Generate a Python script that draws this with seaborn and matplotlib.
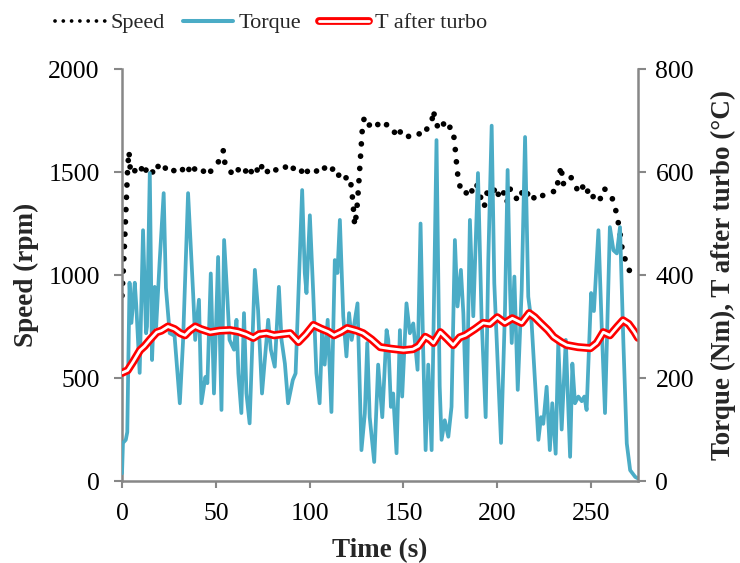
import matplotlib
matplotlib.use("Agg")
import matplotlib.pyplot as plt
from matplotlib.lines import Line2D
import matplotlib.patheffects as pe
import seaborn as sns

# Engine speed (rpm) over time (s)
speed_t = [0, 1, 2, 3, 3.7, 4.5, 6, 8, 10, 12, 13, 15, 17, 19, 21, 23, 25, 27, 29, 31,
           33, 35, 37, 39, 41, 43, 45, 47, 49, 51, 53, 54, 55, 57, 59, 61, 63, 65, 67, 69,
           71, 73, 75, 77, 79, 81, 83, 85, 87, 89, 91, 93, 95, 97, 99, 101, 103, 105, 107,
           109, 111, 113, 115, 117, 119, 121, 122, 123, 124, 125, 126, 127, 128, 129, 131,
           133, 135, 137, 139, 141, 143, 145, 147, 149, 151, 153, 155, 157, 159, 161, 163,
           165, 166, 167, 169, 171, 173, 175, 176.5, 177.5, 178.5, 179.5, 181, 183, 185,
           187, 189, 191, 193, 195, 197, 199, 201, 203, 205, 207, 209, 211, 213, 215, 217,
           219, 221, 223, 225, 227, 229, 231, 233, 234, 235, 237, 239, 241, 243, 245, 247,
           249, 251, 253, 255, 257, 259, 261, 263, 265, 266.5, 268, 270, 271]
speed_rpm = [900, 1080, 1300, 1520, 1600, 1500, 1490, 1530, 1510, 1540, 1500, 1520, 1490,
             1530, 1500, 1520, 1495, 1510, 1500, 1490, 1525, 1500, 1540, 1510, 1495, 1510,
             1480, 1500, 1530, 1545, 1570, 1605, 1530, 1510, 1490, 1520, 1500, 1485, 1530,
             1500, 1530, 1490, 1540, 1505, 1495, 1520, 1500, 1510, 1525, 1500, 1520, 1505,
             1490, 1530, 1500, 1510, 1495, 1525, 1510, 1530, 1505, 1520, 1480, 1500, 1470,
             1480, 1440, 1360, 1240, 1300, 1420, 1560, 1700, 1760, 1720, 1740, 1750, 1720,
             1710, 1730, 1700, 1690, 1720, 1680, 1690, 1670, 1680, 1675, 1690, 1680, 1720,
             1740, 1800, 1740, 1710, 1740, 1700, 1720, 1700, 1620, 1520, 1440, 1420, 1390,
             1430, 1400, 1440, 1380, 1330, 1420, 1370, 1430, 1380, 1410, 1350, 1420, 1390,
             1360, 1400, 1370, 1410, 1380, 1360, 1380, 1390, 1400, 1410, 1400, 1480, 1530,
             1440, 1470, 1480, 1440, 1410, 1440, 1390, 1420, 1380, 1400, 1370, 1420, 1400,
             1380, 1320, 1230, 1130, 1080, 1030, 1010]

# Engine torque (Nm) over time (s)
torque_t = [0, 0.5, 2, 2.8, 4, 5, 6.8, 7.6, 9.4, 11.2, 12.8, 13.3, 14.8, 16, 17.4, 18.2,
            20, 22.2, 23.4, 25.4, 28, 30.8, 32.5, 35.2, 37.9, 39, 41, 42.3, 44.4, 45.5,
            47.3, 49, 51.2, 53, 54.4, 56, 57.3, 59.7, 61, 62, 63.6, 65, 66.3, 68, 70.8,
            72.5, 74.6, 77.9, 79.3, 81.4, 83.6, 85, 86.8, 88.5, 91, 92.5, 96, 97.4, 98.3,
            100.1, 101.9, 103.6, 105.3, 106.7, 108, 109.6, 111.6, 113.4, 114.8, 116.1,
            117.9, 119.6, 121, 122.4, 125.5, 127.6, 129.4, 130.7, 132, 134.4, 136.5,
            138.7, 141, 141.9, 143.3, 144.5, 146.3, 148.1, 149.3, 151.6, 153.4, 155.2,
            157.5, 159.1, 160.5, 161.8, 163.2, 165, 167.6, 169.3, 170.3, 172, 173.9,
            175.6, 177.4, 178.8, 180.6, 181.9, 183.6, 185.4, 187.2, 189.7, 191.6, 193.8,
            195.2, 197, 198.4, 199.6, 202, 204.1, 205.5, 206.8, 207.7, 209.1, 210.9, 213,
            214.8, 216.5, 218.3, 221.9, 223.3, 224.5, 226.3, 228, 229.3, 231.1, 232.5,
            234.3, 236.5, 238.8, 240, 241.4, 243.2, 245, 246.4, 247.6, 250, 250.7, 251.5,
            253.9, 255.7, 257.4, 260, 261.9, 263.7, 265.4, 267.2, 269, 270.8, 273.5, 275]
torque_nm = [15, 74, 80, 95, 385, 307, 385, 340, 210, 487, 287, 300, 598, 235, 377, 300,
             423, 559, 375, 287, 282, 151, 270, 559, 364, 274, 352, 151, 202, 190,
             403, 170, 435, 138, 468, 365, 274, 255, 313, 209, 132, 326, 170, 112, 410,
             332, 170, 313, 255, 222, 377, 274, 228, 151, 196, 209, 565, 404, 365,
             516, 365, 209, 151, 291, 226, 313, 134, 429, 404, 507,
             320, 242, 326, 274, 345, 60, 131, 268, 124, 37, 226,
             124, 293, 274, 144, 170, 54, 293, 164, 345, 287, 306,
             216, 500, 254, 60, 226, 60, 662, 184, 80, 118, 86,
             144, 468, 339, 410, 326, 124, 507, 320, 598, 319, 124,
             429, 690, 384, 280, 74, 332, 604, 371, 268, 397, 177, 371,
             668, 358, 306, 80, 124, 111, 183, 60, 151, 53, 268,
             100, 274, 47, 228, 151, 164, 155, 164, 138, 365, 332, 330,
             487, 294, 132, 493, 448, 442, 493, 268, 73, 21, 8, 5]

# Exhaust temperature after the turbocharger (°C) over time (s)
temp_t = [0, 3, 6, 9.6, 12, 15, 18.5, 21, 24.5, 28, 31, 33.6, 36, 39, 42, 47, 52, 57.6,
          62, 66, 70, 73, 77, 81, 85, 89.6, 94, 98, 102, 106, 110, 113, 117, 120, 122,
          125, 128.5, 133, 137.6, 143, 150, 155, 158, 161.6, 164, 166, 169.6, 173, 176.5,
          180, 183, 188, 192.5, 196, 200, 204, 208, 213, 217, 220, 223, 227, 230, 234,
          237, 243, 249.6, 253, 256.5, 260, 264, 267, 270, 273, 275]
temp_c = [210, 215, 232, 254, 262, 275, 289, 292, 300, 295, 287, 283, 292, 300, 295, 289,
          292, 293, 290, 285, 278, 285, 287, 283, 285, 287, 270, 285, 303, 296, 290, 283,
          290, 297, 295, 292, 287, 275, 260, 257, 254, 256, 262, 280, 275, 268, 289, 277,
          264, 279, 283, 295, 307, 305, 318, 307, 316, 307, 326, 318, 307, 293, 280, 270,
          264, 260, 258, 268, 289, 283, 300, 312, 305, 290, 278]

speed_ticks = [0, 500, 1000, 1500, 2000]
right_ticks = [0, 200, 400, 600, 800]
time_ticks = [0, 50, 100, 150, 200, 250]

sns.set_style("white")
plt.rcParams["font.family"] = ["Liberation Serif", "DejaVu Serif"]

fig, ax = plt.subplots(figsize=(7.4, 5.63), dpi=100)
fig.subplots_adjust(left=0.1649, right=0.8622, top=0.8774, bottom=0.1456)
ax2 = ax.twinx()

torque_color = "#4BACC6"
red = "#FF0000"
grey = "#878787"
tick_fs = 18.5
label_fs = 19.5

# double red outline with white core for the temperature trace
double_red = [pe.Stroke(linewidth=5.8, foreground=red), pe.Normal()]
double_red_leg = [pe.Stroke(linewidth=5.6, foreground=red), pe.Normal()]

# Speed: round-dot line on the left axis
sns.lineplot(x=speed_t, y=speed_rpm, ax=ax, color="black", linewidth=4.1, sort=False)
spd_line = ax.lines[-1]
spd_line.set_linestyle((0, (0.01, 2.15)))
spd_line.set_dash_capstyle("round")

# Torque and temperature on the right axis
sns.lineplot(x=torque_t, y=torque_nm, ax=ax2, color=torque_color, linewidth=2.7,
             sort=False, solid_joinstyle="round")
sns.lineplot(x=temp_t, y=temp_c, ax=ax2, color="white", linewidth=2.0, sort=False,
             path_effects=double_red)

ax.set_xlim(0, 275)
ax.set_ylim(0, 2000)
ax2.set_ylim(0, 800)
ax.set_xticks(time_ticks)
ax.set_yticks(speed_ticks)
ax2.set_yticks(right_ticks)

ax.set_xlabel("Time (s)", fontsize=label_fs, fontweight="bold", labelpad=10)
ax.set_ylabel("Speed (rpm)", fontsize=label_fs, fontweight="bold", labelpad=6.5)
ax2.set_ylabel("Torque (Nm), T after turbo (°C)", fontsize=label_fs,
               fontweight="bold", labelpad=12)

for a in (ax, ax2):
    a.spines["top"].set_visible(False)
    for s in ("left", "right", "bottom"):
        a.spines[s].set_color(grey)
        a.spines[s].set_linewidth(1.8)
    a.grid(False)
ax.spines["right"].set_visible(False)
ax2.spines["left"].set_visible(False)
ax2.spines["bottom"].set_visible(False)

ax.tick_params(axis="x", bottom=True, labelsize=tick_fs, colors="black", length=5,
               width=1.5, direction="out", color=grey, pad=10.5)
ax.tick_params(axis="y", left=True, labelsize=tick_fs, colors="black", length=6,
               width=1.5, direction="out", color=grey, pad=10)
ax2.tick_params(axis="y", right=True, labelsize=tick_fs, colors="black", length=5.5,
                width=1.5, direction="out", color=grey, pad=7)

h_speed = Line2D([], [], color="black", linewidth=2.7, linestyle=(0, (0.01, 2.2)),
                 dash_capstyle="round")
h_torque = Line2D([], [], color=torque_color, linewidth=2.9)
h_temp = Line2D([], [], color="white", linewidth=2.0, path_effects=double_red_leg)
fig.legend([h_speed, h_torque, h_temp], ["Speed", "Torque", "T after turbo"],
           loc="center left", bbox_to_anchor=(55 / 740, 1 - 23 / 563), ncol=3,
           frameon=False, fontsize=16, handlelength=2.25, handletextpad=0.26,
           columnspacing=0.8, borderpad=0, borderaxespad=0)

fig.savefig("out.png", dpi=100)
